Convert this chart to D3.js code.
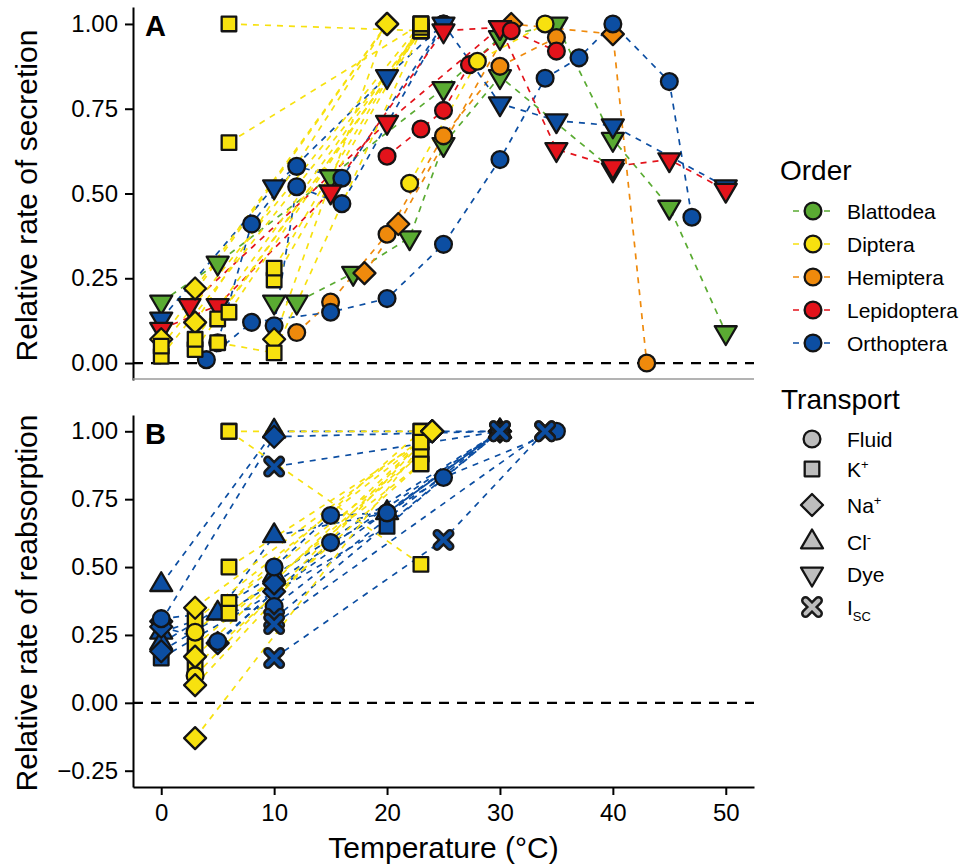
<!DOCTYPE html>
<html lang="en">
<head>
<meta charset="UTF-8">
<title>Temperature and tubule transport</title>
<script src="https://cdn.jsdelivr.net/npm/d3@7"></script>
<style>
  body { margin: 0; background: #fff; }
  svg text { font-family: "Liberation Sans", Arial, sans-serif; fill: #000; }
  .axis path, .axis line { stroke: #000; stroke-width: 2; }
  .axis text { font-size: 24px; }
</style>
</head>
<body>
<svg id="chart" width="962" height="868"></svg>
<script>
  // legend keys
  var orderNames = ['Blattodea', 'Diptera', 'Hemiptera', 'Lepidoptera', 'Orthoptera']
  var orderColors = ['#5aab32', '#f7e10f', '#ef8a0c', '#e3131b', '#0c4ea2']
  var transportNames = ['Fluid', 'K+', 'Na+', 'Cl-', 'Dye', 'Isc']

  var xTicks = [0, 10, 20, 30, 40, 50]
  var secretionTicks = [0, 0.25, 0.5, 0.75, 1]
  var reabsorptionTicks = [-0.25, 0, 0.25, 0.5, 0.75, 1]

  // panel A, secretion; each entry is one preparation joined by a dashed line
  var secretion = [
    {order: 'Blattodea', transport: 'Dye', temp: [0, 5, 15, 25, 30, 35, 40, 45, 50], rate: [0.18, 0.295, 0.55, 0.81, 0.96, 1.0, 0.66, 0.46, 0.09]},
    {order: 'Blattodea', transport: 'Dye', temp: [10, 12, 17, 22, 25, 30, 40], rate: [0.18, 0.18, 0.265, 0.37, 0.645, 0.845, 0.57]},
    {order: 'Hemiptera', transport: 'Fluid', temp: [12, 15, 20, 25, 30, 35], rate: [0.09, 0.18, 0.38, 0.67, 0.875, 0.96]},
    {order: 'Hemiptera', transport: ['Na+', 'Na+', 'Na+', 'Na+', 'Fluid'], temp: [18, 21, 31, 40, 43], rate: [0.265, 0.41, 1.0, 0.97, 0.0]},
    {order: 'Orthoptera', transport: 'Fluid', temp: [4, 8, 15, 20, 25, 30, 34, 37, 40, 45, 47], rate: [0.01, 0.12, 0.15, 0.19, 0.35, 0.60, 0.84, 0.90, 1.0, 0.83, 0.43]},
    {order: 'Orthoptera', transport: 'Fluid', temp: [5, 8, 12, 16, 25], rate: [0.06, 0.41, 0.58, 0.545, 1.0]},
    {order: 'Orthoptera', transport: 'Fluid', temp: [10, 12, 16, 25], rate: [0.11, 0.52, 0.47, 1.0]},
    {order: 'Orthoptera', transport: 'Dye', temp: [0, 10, 20, 25, 30, 35, 40, 50], rate: [0.13, 0.52, 0.845, 1.0, 0.765, 0.715, 0.70, 0.52]},
    {order: 'Lepidoptera', transport: 'Dye', temp: [0, 5, 15, 25, 30, 35, 40, 45, 50], rate: [0.10, 0.17, 0.505, 0.98, 0.99, 0.63, 0.58, 0.60, 0.51]},
    {order: 'Lepidoptera', transport: 'Dye', temp: [2.5, 20, 30], rate: [0.17, 0.71, 0.99]},
    {order: 'Lepidoptera', transport: 'Fluid', temp: [20, 23, 25, 27.3, 31, 35], rate: [0.61, 0.69, 0.745, 0.88, 0.98, 0.92]},
    {order: 'Diptera', transport: 'Fluid', temp: [22, 28, 34], rate: [0.53, 0.89, 1.0]},
    {order: 'Diptera', transport: 'Na+', temp: [0, 20], rate: [0.07, 1.0]},
    {order: 'Diptera', transport: 'Na+', temp: [3, 20], rate: [0.22, 1.0]},
    {order: 'Diptera', transport: 'Na+', temp: [3, 20], rate: [0.12, 1.0]},
    {order: 'Diptera', transport: 'Na+', temp: [10, 20], rate: [0.07, 1.0]},
    {order: 'Diptera', transport: 'K+', temp: [0, 23], rate: [0.02, 0.98]},
    {order: 'Diptera', transport: 'K+', temp: [0, 23], rate: [0.05, 1.0]},
    {order: 'Diptera', transport: 'K+', temp: [3, 23], rate: [0.04, 0.98]},
    {order: 'Diptera', transport: 'K+', temp: [3, 23], rate: [0.07, 0.99]},
    {order: 'Diptera', transport: 'K+', temp: [5, 10, 23], rate: [0.06, 0.03, 0.98]},
    {order: 'Diptera', transport: 'K+', temp: [5, 23], rate: [0.13, 0.98]},
    {order: 'Diptera', transport: 'K+', temp: [6, 23], rate: [0.15, 0.99]},
    {order: 'Diptera', transport: 'K+', temp: [6, 23], rate: [0.65, 1.0]},
    {order: 'Diptera', transport: 'K+', temp: [6, 23], rate: [1.0, 0.98]},
    {order: 'Diptera', transport: 'K+', temp: [10, 23], rate: [0.245, 0.99]},
    {order: 'Diptera', transport: 'K+', temp: [10, 23], rate: [0.28, 1.0]}
  ]

  // panel B, reabsorption
  var reabsorption = [
    {order: 'Orthoptera', transport: 'Cl-', temp: [0, 10, 30], rate: [0.435, 1.0, 1.0]},
    {order: 'Orthoptera', transport: 'Na+', temp: [0, 10, 30], rate: [0.30, 0.98, 1.0]},
    {order: 'Orthoptera', transport: 'Cl-', temp: [0, 5, 10, 20, 30], rate: [0.26, 0.33, 0.615, 0.70, 1.0]},
    {order: 'Orthoptera', transport: 'Cl-', temp: [0, 10, 30], rate: [0.22, 0.47, 1.0]},
    {order: 'Orthoptera', transport: 'K+', temp: [0, 20, 30], rate: [0.165, 0.65, 1.0]},
    {order: 'Orthoptera', transport: 'Na+', temp: [0, 5, 10, 30], rate: [0.28, 0.22, 0.41, 1.0]},
    {order: 'Orthoptera', transport: 'Na+', temp: [0, 10, 30], rate: [0.19, 0.44, 1.0]},
    {order: 'Orthoptera', transport: 'Fluid', temp: [0, 10, 30], rate: [0.31, 0.355, 1.0]},
    {order: 'Orthoptera', transport: 'Fluid', temp: [5, 15, 20, 25, 35], rate: [0.226, 0.59, 0.70, 0.83, 1.0]},
    {order: 'Orthoptera', transport: 'Fluid', temp: [10, 15, 20, 30], rate: [0.50, 0.69, 0.70, 1.0]},
    {order: 'Orthoptera', transport: 'Isc', temp: [10, 30], rate: [0.87, 1.0]},
    {order: 'Orthoptera', transport: 'Isc', temp: [10, 25, 34], rate: [0.165, 0.60, 1.0]},
    {order: 'Orthoptera', transport: 'Isc', temp: [10, 30], rate: [0.31, 1.0]},
    {order: 'Orthoptera', transport: 'Isc', temp: [10, 34], rate: [0.29, 1.0]},
    {order: 'Diptera', transport: 'K+', temp: [6, 23], rate: [1.0, 1.0]},
    {order: 'Diptera', transport: 'K+', temp: [6, 23], rate: [1.0, 0.51]},
    {order: 'Diptera', transport: 'K+', temp: [6, 23], rate: [0.50, 0.96]},
    {order: 'Diptera', transport: 'K+', temp: [6, 23], rate: [0.37, 0.915]},
    {order: 'Diptera', transport: 'K+', temp: [6, 23], rate: [0.33, 0.88]},
    {order: 'Diptera', transport: 'K+', temp: [3, 23], rate: [0.305, 0.96]},
    {order: 'Diptera', transport: 'K+', temp: [3, 23], rate: [0.21, 0.915]},
    {order: 'Diptera', transport: 'K+', temp: [3, 23], rate: [0.135, 0.88]},
    {order: 'Diptera', transport: ['Fluid', 'K+'], temp: [3, 23], rate: [0.26, 1.0]},
    {order: 'Diptera', transport: ['Fluid', 'K+'], temp: [3, 23], rate: [0.10, 0.96]},
    {order: 'Diptera', transport: 'Na+', temp: [3, 24], rate: [0.35, 1.0]},
    {order: 'Diptera', transport: 'Na+', temp: [3, 24], rate: [0.17, 1.0]},
    {order: 'Diptera', transport: 'Na+', temp: [3, 24], rate: [0.065, 1.0]},
    {order: 'Diptera', transport: 'Na+', temp: [3, 24], rate: [-0.13, 1.0]}
  ]

  var svg = d3.select('#chart')
  var left = 133
  var right = 754

  var color = d3.scaleOrdinal().domain(orderNames).range(orderColors)
  var x = d3.scaleLinear().domain([-2.5, 52.5]).range([left, right])

  var panels = [
    {data: secretion, ticks: secretionTicks, domain: [-0.05, 1.05], top: 7, bottom: 380,
      label: 'A', title: 'Relative rate of secretion'},
    {data: reabsorption, ticks: reabsorptionTicks, domain: [-0.31, 1.06], top: 415, bottom: 787,
      label: 'B', title: 'Relative rate of reabsorption'}
  ]

  function shapeAt(s, i) {
    return Array.isArray(s.transport) ? s.transport[i] : s.transport
  }

  // one marker, drawn around (0,0) inside g
  function drawShape(g, type, fill) {
    if (type === 'Isc') {
      var d = 'M-6.5,-6.5L6.5,6.5M-6.5,6.5L6.5,-6.5'
      g.append('path').attr('d', d).attr('stroke', '#1a1a1a')
        .attr('stroke-width', 9).attr('stroke-linecap', 'round').attr('fill', 'none')
      g.append('path').attr('d', d).attr('stroke', fill)
        .attr('stroke-width', 4).attr('stroke-linecap', 'round').attr('fill', 'none')
      return
    }
    var el
    if (type === 'Fluid') el = g.append('circle').attr('r', 8.4)
    else if (type === 'K+') el = g.append('rect').attr('x', -7.3).attr('y', -7.3).attr('width', 14.6).attr('height', 14.6)
    else if (type === 'Na+') el = g.append('path').attr('d', 'M0,-11L11,0L0,11L-11,0Z')
    else if (type === 'Cl-') el = g.append('path').attr('d', 'M0,-12.5L11,6.3L-11,6.3Z')
    else el = g.append('path').attr('d', 'M0,12.5L11,-6.3L-11,-6.3Z')
    el.attr('fill', fill).attr('stroke', '#141414').attr('stroke-width', 2.3)
      .attr('stroke-linejoin', 'round')
  }

  panels.forEach(function (p) {
    var y = d3.scaleLinear().domain(p.domain).range([p.bottom, p.top])

    // zero reference
    svg.append('line')
      .attr('x1', left).attr('x2', right)
      .attr('y1', y(0)).attr('y2', y(0))
      .attr('stroke', '#000').attr('stroke-width', 2.2)
      .attr('stroke-dasharray', '10,8')

    var line = d3.line()
      .x(function (d) { return x(d[0]) })
      .y(function (d) { return y(d[1]) })

    svg.append('g').selectAll('path')
      .data(p.data)
      .enter()
      .append('path')
      .attr('d', function (s) { return line(s.temp.map(function (t, i) { return [t, s.rate[i]] })) })
      .attr('fill', 'none')
      .attr('stroke', function (s) { return color(s.order) })
      .attr('stroke-width', 1.7)
      .attr('stroke-dasharray', '6,6')

    var pts = []
    p.data.forEach(function (s) {
      s.temp.forEach(function (t, i) {
        pts.push({t: t, r: s.rate[i], order: s.order, shape: shapeAt(s, i)})
      })
    })
    svg.append('g').selectAll('g')
      .data(pts)
      .enter()
      .append('g')
      .attr('transform', function (d) { return 'translate(' + x(d.t) + ',' + y(d.r) + ')' })
      .each(function (d) { drawShape(d3.select(this), d.shape, color(d.order)) })

    // axes
    svg.append('g')
      .attr('class', 'axis')
      .attr('transform', 'translate(' + left + ',0)')
      .call(d3.axisLeft(y).tickValues(p.ticks).tickFormat(d3.format('.2f'))
        .tickSize(8).tickSizeOuter(0).tickPadding(7))
      .select('.domain').attr('stroke-width', 2.2)

    svg.append('text')
      .attr('transform', 'translate(37,' + ((p.top + p.bottom) / 2 + 2) + ') rotate(-90)')
      .attr('text-anchor', 'middle')
      .attr('font-size', 30)
      .text(p.title)

    svg.append('text')
      .attr('x', 145)
      .attr('y', p.top + 29)
      .attr('font-size', 29)
      .attr('font-weight', 'bold')
      .text(p.label)
  })

  // thin frame line under panel A
  svg.append('line')
    .attr('x1', left).attr('x2', right)
    .attr('y1', 379).attr('y2', 379)
    .attr('stroke', '#9a9a9a').attr('stroke-width', 1.5)

  svg.append('g')
    .attr('class', 'axis')
    .attr('transform', 'translate(0,787)')
    .call(d3.axisBottom(x).tickValues(xTicks).tickSize(8).tickSizeOuter(0).tickPadding(9))
    .select('.domain').attr('stroke-width', 2.2)

  svg.append('text')
    .attr('x', (left + right) / 2)
    .attr('y', 858)
    .attr('text-anchor', 'middle')
    .attr('font-size', 30)
    .text('Temperature (\u00b0C)')

  // legend: order
  svg.append('text').attr('x', 780).attr('y', 180).attr('font-size', 28).text('Order')
  var orderKeys = svg.append('g').selectAll('g')
    .data(orderNames)
    .enter()
    .append('g')
    .attr('transform', function (d, i) { return 'translate(813,' + (211 + i * 33) + ')' })
  orderKeys.append('line')
    .attr('x1', -20).attr('x2', 17).attr('stroke', function (d) { return color(d) })
    .attr('stroke-width', 1.6).attr('stroke-dasharray', '6,25')
  orderKeys.each(function (d) { drawShape(d3.select(this), 'Fluid', color(d)) })
  orderKeys.append('text')
    .attr('x', 34).attr('y', 7.5).attr('font-size', 21)
    .text(function (d) { return d })

  // legend: transport
  svg.append('text').attr('x', 781).attr('y', 409).attr('font-size', 28).text('Transport')
  var transportY = [439, 469, 505, 542, 574, 607]
  var transportKeys = svg.append('g').selectAll('g')
    .data(transportNames)
    .enter()
    .append('g')
    .attr('transform', function (d, i) { return 'translate(812,' + transportY[i] + ')' })
  transportKeys.each(function (d) { drawShape(d3.select(this), d, '#bdbdbd') })
  var labels = transportKeys.append('text')
    .attr('x', 35).attr('y', 7.5).attr('font-size', 21)
  labels.each(function (d) {
    var t = d3.select(this)
    if (d === 'Fluid' || d === 'Dye') { t.text(d); return }
    if (d === 'Isc') {
      t.append('tspan').text('I')
      t.append('tspan').attr('font-size', 13).attr('dy', 6).text('SC')
      return
    }
    t.append('tspan').text(d.slice(0, -1))
    t.append('tspan').attr('font-size', 13).attr('dy', -8)
      .text(d.slice(-1) === '+' ? '+' : '-')
  })
</script>
</body>
</html>
